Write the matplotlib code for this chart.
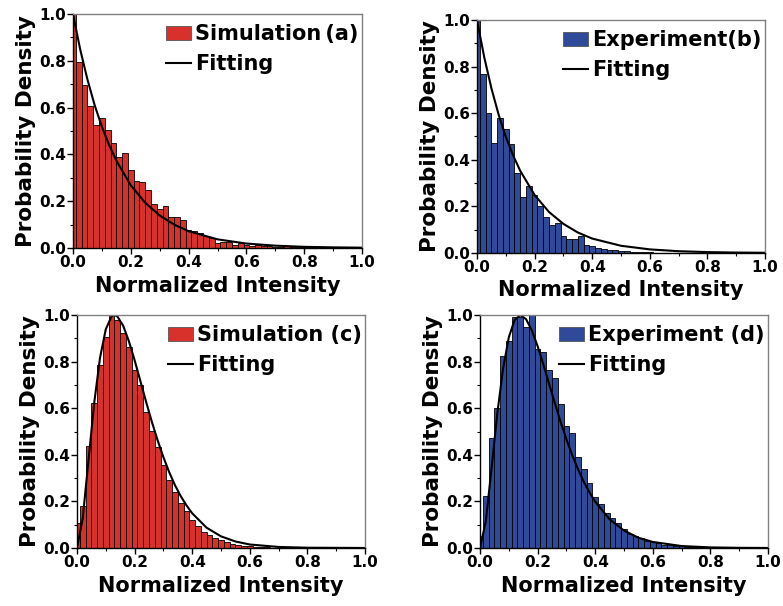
import numpy as np
import matplotlib
matplotlib.use("Agg")
import matplotlib.pyplot as plt
from matplotlib.patches import Patch
from matplotlib.lines import Line2D
from matplotlib.ticker import MultipleLocator

plt.rcParams['font.family'] = ['DejaVu Sans']
plt.rcParams['font.weight'] = 'bold'

bin_width = 0.02

# ---- data (bin heights, bins centred at 0, 0.02, 0.04, ...) ----
sim_a = [1.0, 0.796, 0.697, 0.607, 0.524, 0.557, 0.504, 0.45, 0.39, 0.407,
         0.333, 0.288, 0.281, 0.246, 0.187, 0.168, 0.18, 0.134, 0.131, 0.12,
         0.078, 0.074, 0.064, 0.053, 0.043, 0.02, 0.024, 0.025, 0.013, 0.02,
         0.012, 0.01, 0.012, 0.008, 0.008, 0.006, 0.005, 0.007, 0.004, 0.003,
         0.003, 0.002, 0.002, 0.001, 0.001, 0.001]
exp_b = [1.0, 0.767, 0.60, 0.47, 0.578, 0.532, 0.469, 0.342, 0.242, 0.289,
         0.25, 0.2, 0.155, 0.12, 0.13, 0.075, 0.06, 0.06, 0.075, 0.035,
         0.028, 0.022, 0.018, 0.015, 0.012, 0.01, 0.007, 0.006, 0.005, 0.004,
         0.003, 0.002, 0.002, 0.001, 0.001]
sim_c = [0.106, 0.18, 0.438, 0.624, 0.785, 0.907, 1.0, 0.979, 0.924, 0.861,
         0.764, 0.70, 0.584, 0.502, 0.435, 0.355, 0.29, 0.24, 0.194, 0.16,
         0.122, 0.093, 0.07, 0.055, 0.044, 0.033, 0.024, 0.017, 0.013, 0.01,
         0.007, 0.005, 0.004, 0.003, 0.002, 0.002, 0.001, 0.001]
exp_d = [0.05, 0.223, 0.474, 0.602, 0.824, 0.89, 0.99, 0.99, 0.947, 1.0,
         0.853, 0.843, 0.764, 0.73, 0.617, 0.524, 0.492, 0.392, 0.338, 0.278,
         0.218, 0.19, 0.15, 0.128, 0.108, 0.08, 0.06, 0.05, 0.041, 0.032,
         0.025, 0.02, 0.015, 0.012, 0.01, 0.008, 0.006, 0.005, 0.004, 0.003,
         0.002, 0.002, 0.001]

# ---- fitting curves ----
fit_a_x = [0, 0.025, 0.05, 0.075, 0.1, 0.125, 0.15, 0.2, 0.25, 0.3, 0.35, 0.4,
           0.5, 0.6, 0.7, 0.8, 0.9, 1.0]
fit_a_y = [1.0, 0.848, 0.72, 0.61, 0.518, 0.44, 0.373, 0.268, 0.193, 0.139,
           0.1, 0.072, 0.037, 0.019, 0.01, 0.005, 0.0027, 0.0014]
fit_b_x = [0, 0.025, 0.05, 0.075, 0.1, 0.125, 0.15, 0.2, 0.25, 0.3, 0.35, 0.4,
           0.5, 0.6, 0.7, 0.8, 0.9, 1.0]
fit_b_y = [1.0, 0.841, 0.707, 0.594, 0.499, 0.42, 0.353, 0.249, 0.176, 0.125,
           0.088, 0.062, 0.031, 0.0155, 0.0077, 0.0039, 0.0019, 0.001]
fit_c_x = [0, 0.02, 0.04, 0.06, 0.08, 0.10, 0.12, 0.13, 0.14, 0.16, 0.18, 0.20,
           0.22, 0.24, 0.26, 0.28, 0.30, 0.32, 0.34, 0.36, 0.38, 0.40, 0.45,
           0.50, 0.55, 0.60, 0.70, 0.80, 1.0]
fit_c_y = [0, 0.128, 0.378, 0.625, 0.817, 0.939, 0.994, 1.0, 0.994, 0.955,
           0.888, 0.806, 0.717, 0.627, 0.541, 0.462, 0.39, 0.326, 0.27, 0.223,
           0.183, 0.149, 0.087, 0.05, 0.028, 0.015, 0.0045, 0.0013, 0.0001]
fit_d_x = [0, 0.02, 0.04, 0.06, 0.08, 0.10, 0.12, 0.14, 0.16, 0.18, 0.20, 0.22,
           0.24, 0.26, 0.28, 0.30, 0.32, 0.34, 0.36, 0.38, 0.40, 0.45, 0.50,
           0.55, 0.60, 0.70, 0.80, 0.90, 1.0]
fit_d_y = [0, 0.113, 0.341, 0.576, 0.769, 0.904, 0.978, 1.0, 0.982, 0.934,
           0.866, 0.788, 0.704, 0.621, 0.541, 0.467, 0.399, 0.339, 0.285,
           0.239, 0.199, 0.123, 0.075, 0.044, 0.026, 0.0084, 0.0026, 0.0008,
           0.0002]

labels = ["Simulation\u2009(a)", "Experiment(b)", "Simulation (c)", "Experiment (d)"]
xlabel = "Normalized Intensity"
ylabel = "Probability Density"
xticks = [0.0, 0.2, 0.4, 0.6, 0.8, 1.0]
yticks = [0.0, 0.2, 0.4, 0.6, 0.8, 1.0]

RED = "#d8312c"
BLUE = "#2f4a98"

W, H = 783, 606
fig = plt.figure(figsize=(W / 100, H / 100), dpi=100)

def ax_rect(x0, y0, x1, y1):
    return [x0 / W, 1 - y1 / H, (x1 - x0) / W, (y1 - y0) / H]

panels = [
    (ax_rect(73, 14, 362, 248), sim_a, fit_a_x, fit_a_y, RED, labels[0]),
    (ax_rect(477, 20, 765, 253), exp_b, fit_b_x, fit_b_y, BLUE, labels[1]),
    (ax_rect(77, 315, 365, 548), sim_c, fit_c_x, fit_c_y, RED, labels[2]),
    (ax_rect(480, 315, 768, 548), exp_d, fit_d_x, fit_d_y, BLUE, labels[3]),
]

for rect, vals, fx, fy, col, lab in panels:
    ax = fig.add_axes(rect)
    centers = np.arange(len(vals)) * bin_width
    ax.bar(centers, vals, width=bin_width, align='center', color=col,
           edgecolor='black', linewidth=0.6)
    ax.plot(fx, fy, color='black', lw=1.5)
    ax.set_xlim(0, 1.0)
    ax.set_ylim(0, 1.0)
    ax.set_xticks(xticks)
    ax.set_yticks(yticks)
    ax.set_xticklabels([f"{t:.1f}" for t in xticks], fontsize=11, fontweight='bold')
    ax.set_yticklabels([f"{t:.1f}" for t in yticks], fontsize=11, fontweight='bold')
    ax.xaxis.set_minor_locator(MultipleLocator(0.1))
    ax.yaxis.set_minor_locator(MultipleLocator(0.1))
    ax.tick_params(which='major', direction='out', length=4, width=1, pad=1)
    ax.tick_params(which='minor', direction='out', length=2.5, width=0.8)
    ax.set_xlabel(xlabel, fontsize=15, fontweight='bold', labelpad=4)
    ax.set_ylabel(ylabel, fontsize=15.5, fontweight='bold', labelpad=2)
    for s in ['left', 'bottom']:
        ax.spines[s].set_color('black')
        ax.spines[s].set_linewidth(1.0)
    for s in ['top', 'right']:
        ax.spines[s].set_color('#808080')
        ax.spines[s].set_linewidth(1.0)
    handles = [Patch(facecolor=col, edgecolor='#555555', linewidth=0.6),
               Line2D([0], [0], color='black', lw=1.5)]
    ax.legend(handles, [lab, "Fitting"], loc='upper right',
              bbox_to_anchor=(1.025, 1.0), frameon=False,
              prop={'size': 15, 'weight': 'bold'},
              handlelength=1.2, handleheight=0.65, handletextpad=0.2,
              labelspacing=0.45, borderpad=0.1, borderaxespad=0.4)

fig.savefig("out.png", dpi=100)
